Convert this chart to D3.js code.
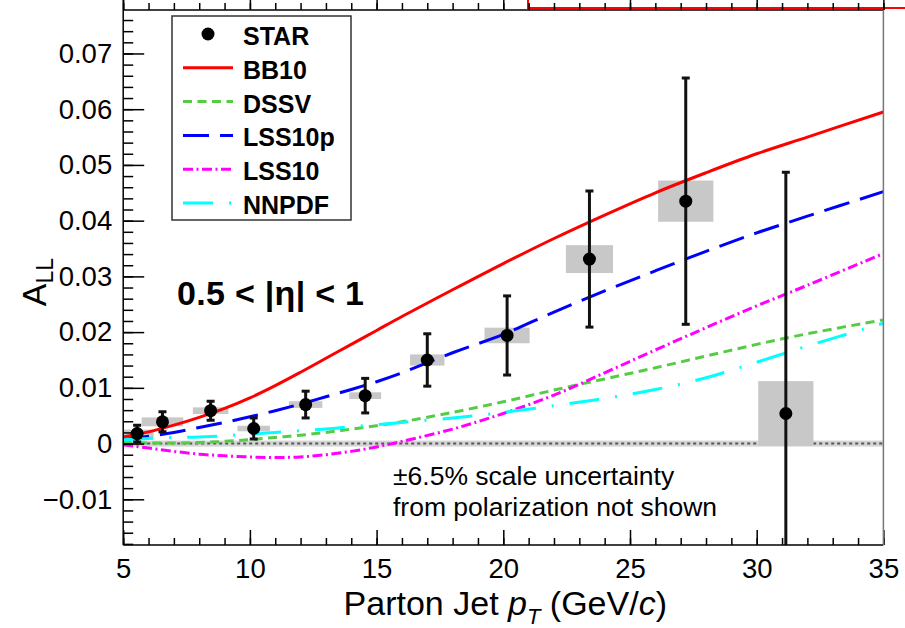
<!DOCTYPE html>
<html>
<head>
<meta charset="utf-8">
<script src="https://cdn.jsdelivr.net/npm/d3@7"></script>
<style>
body { margin: 0; background: #fff; }
svg { display: block; font-family: "Liberation Sans", Arial, Helvetica, sans-serif; }
</style>
</head>
<body>
<div class="Graph"></div>
<script>
// STAR data points
var ptJet   = [5.55, 6.55, 8.45, 10.15, 12.2, 14.55, 17.0, 20.15, 23.4, 27.2, 31.15];
var aLL     = [0.0018, 0.0039, 0.0059, 0.0027, 0.0070, 0.0086, 0.0150, 0.0194, 0.0331, 0.0435, 0.0054];
var statErr = [0.0015, 0.0018, 0.0017, 0.0019, 0.0024, 0.0031, 0.0047, 0.0071, 0.0122, 0.0221, 0.0433];
var systErr = [0.0007, 0.0008, 0.0006, 0.0005, 0.0006, 0.0006, 0.0010, 0.0014, 0.0025, 0.0037, 0.0058];
var systWid = [0.65, 0.82, 0.70, 0.64, 0.66, 0.63, 0.68, 0.89, 0.93, 1.09, 1.09];

// theory curves
var ptTheory = [5, 6, 7, 8, 9, 10, 11, 12, 13, 14, 15, 16, 18, 20, 22, 24, 26, 28, 30, 32, 35];
var bb10   = [0.0012, 0.0021, 0.0033, 0.0047, 0.0063, 0.0082, 0.0104, 0.0128, 0.0153, 0.0178, 0.0203, 0.0228, 0.0276, 0.0323, 0.0368, 0.0410, 0.0450, 0.0486, 0.0520, 0.0550, 0.0595];
var dssv   = [0.0002, 0.0001, 0.0001, 0.0002, 0.0004, 0.0007, 0.0011, 0.0015, 0.0020, 0.0026, 0.0032, 0.0039, 0.0056, 0.0075, 0.0096, 0.0116, 0.0136, 0.0157, 0.0178, 0.0197, 0.0222];
var lss10p = [0.0007, 0.0013, 0.0020, 0.0029, 0.0038, 0.0048, 0.0059, 0.0071, 0.0084, 0.0097, 0.0111, 0.0127, 0.0163, 0.0196, 0.0236, 0.0274, 0.0310, 0.0345, 0.0378, 0.0408, 0.0452];
var lss10  = [-0.0002, -0.0008, -0.0014, -0.0019, -0.0022, -0.0024, -0.0025, -0.0024, -0.0020, -0.0014, -0.0006, 0.0004, 0.0026, 0.0054, 0.0087, 0.0127, 0.0168, 0.0208, 0.0247, 0.0284, 0.0341];
var nnpdf  = [0.0007, 0.0009, 0.0011, 0.0012, 0.0014, 0.0017, 0.0020, 0.0023, 0.0026, 0.0030, 0.0034, 0.0038, 0.0046, 0.0056, 0.0068, 0.0081, 0.0097, 0.0118, 0.0146, 0.0175, 0.0216];

var xTicks = [5, 10, 15, 20, 25, 30, 35];
var yTicks = [-0.01, 0, 0.01, 0.02, 0.03, 0.04, 0.05, 0.06, 0.07];

var W = 905, H = 628;
var margin = {
        top: 10,
        right: 21.6,
        bottom: 83,
        left: 123.2
    },
    width = W - margin.left - margin.right,
    height = H - margin.top - margin.bottom;

var svg = d3.select(".Graph")
    .append("svg")
    .attr("width", W)
    .attr("height", H);

// piece of the panel above (cropped)
svg.append("path")
    .attr("d", "M528,0 V8 H905")
    .attr("fill", "none")
    .attr("stroke", "#ff0000")
    .attr("stroke-width", 2);

var g = svg.append("g")
    .attr("transform", "translate(" + margin.left + "," + margin.top + ")");

var x = d3.scaleLinear().domain([5, 35]).range([0, width]);
var y = d3.scaleLinear().domain([-0.0182, 0.0778]).range([height, 0]);

g.append("clipPath").attr("id", "frame")
    .append("rect").attr("width", width).attr("height", height);

var plot = g.append("g").attr("clip-path", "url(#frame)");

// zero line with grey band
plot.append("rect")
    .attr("x", 0).attr("width", width)
    .attr("y", y(0) - 3).attr("height", 6)
    .attr("fill", "#d4d4d4");
plot.append("line")
    .attr("x1", 0).attr("x2", width)
    .attr("y1", y(0)).attr("y2", y(0))
    .attr("stroke", "#555")
    .attr("stroke-width", 2)
    .attr("stroke-dasharray", "3,3");

// systematic boxes
plot.selectAll(".syst")
    .data(ptJet)
    .enter()
    .append("rect")
    .attr("class", "syst")
    .attr("x", (d, i) => x(d - systWid[i]))
    .attr("width", (d, i) => x(d + systWid[i]) - x(d - systWid[i]))
    .attr("y", (d, i) => y(aLL[i] + systErr[i]))
    .attr("height", (d, i) => y(aLL[i] - systErr[i]) - y(aLL[i] + systErr[i]))
    .attr("fill", "#c8c8c8");

// theory curves
var curves = [
    {name: "BB10", vals: bb10, color: "#ff0000", dash: null},
    {name: "DSSV", vals: dssv, color: "#55cc44", dash: "9,5.5"},
    {name: "LSS10p", vals: lss10p, color: "#0000ff", dash: "26,11"},
    {name: "LSS10", vals: lss10, color: "#ff00ff", dash: "10,3.5,2,3.5"},
    {name: "NNPDF", vals: nnpdf, color: "#00ffff", dash: "30,16,2,16"}
];

var line = d3.line()
    .x((d, i) => x(ptTheory[i]))
    .y(d => y(d))
    .curve(d3.curveCatmullRom);

curves.forEach(c => {
    plot.append("path")
        .attr("d", line(c.vals))
        .attr("fill", "none")
        .attr("stroke", c.color)
        .attr("stroke-width", 3)
        .attr("stroke-dasharray", c.dash);
});

// stat error bars
var bars = plot.selectAll(".err")
    .data(ptJet)
    .enter()
    .append("g")
    .attr("class", "err")
    .attr("stroke", "#111")
    .attr("stroke-width", 3);
bars.append("line")
    .attr("x1", d => x(d)).attr("x2", d => x(d))
    .attr("y1", (d, i) => y(aLL[i] + statErr[i]))
    .attr("y2", (d, i) => y(aLL[i] - statErr[i]));
bars.append("line")
    .attr("x1", d => x(d) - 4).attr("x2", d => x(d) + 4)
    .attr("y1", (d, i) => y(aLL[i] + statErr[i]))
    .attr("y2", (d, i) => y(aLL[i] + statErr[i]));
bars.append("line")
    .attr("x1", d => x(d) - 4).attr("x2", d => x(d) + 4)
    .attr("y1", (d, i) => y(aLL[i] - statErr[i]))
    .attr("y2", (d, i) => y(aLL[i] - statErr[i]));

plot.selectAll(".point")
    .data(ptJet)
    .enter()
    .append("circle")
    .attr("class", "point")
    .attr("cx", d => x(d))
    .attr("cy", (d, i) => y(aLL[i]))
    .attr("r", 6.5)
    .attr("fill", "#000");

// axes
var minorX = d3.range(5, 36, 1);
var minorY = d3.range(-18, 78, 2).map(v => v / 1000);

g.append("g")
    .attr("transform", "translate(0," + height + ")")
    .call(d3.axisBottom(x).tickValues(minorX).tickSize(-7).tickFormat(""));
g.append("g")
    .attr("class", "xaxis")
    .attr("transform", "translate(0," + height + ")")
    .call(d3.axisBottom(x).tickValues(xTicks).tickSize(-15).tickPadding(13).tickFormat(d3.format("d")));

g.append("g")
    .call(d3.axisTop(x).tickValues(minorX).tickSize(7).tickFormat(""));
g.append("g")
    .call(d3.axisTop(x).tickValues(xTicks).tickSize(12).tickFormat(""));

g.append("g")
    .call(d3.axisLeft(y).tickValues(minorY).tickSize(-10).tickFormat(""));
g.append("g")
    .attr("class", "yaxis")
    .call(d3.axisLeft(y).tickValues(yTicks).tickSize(-21).tickPadding(11)
        .tickFormat(d => d === 0 ? "0" : d3.format(".2f")(d)));

g.selectAll(".domain").remove();
g.selectAll(".tick line").attr("stroke", "#000").attr("stroke-width", 1.5);
g.selectAll(".xaxis text, .yaxis text")
    .attr("fill", "#000")
    .style("font-size", "27.5px")
    .style("font-family", "'Liberation Sans', Arial, sans-serif");

// frame
g.append("line").attr("x1", 0).attr("x2", 0).attr("y1", -10).attr("y2", height)
    .attr("stroke", "#000").attr("stroke-width", 1.5);
g.append("line").attr("x1", 0).attr("x2", width).attr("y1", height).attr("y2", height)
    .attr("stroke", "#000").attr("stroke-width", 1.5);
g.append("line").attr("x1", 0).attr("x2", width).attr("y1", 0).attr("y2", 0)
    .attr("stroke", "#000").attr("stroke-width", 1.5);
g.append("line").attr("x1", width).attr("x2", width).attr("y1", 0).attr("y2", height)
    .attr("stroke", "#777").attr("stroke-width", 1.5);

// axis titles
var xt = svg.append("text")
    .attr("x", margin.left + width / 2 + 2)
    .attr("y", 615)
    .attr("text-anchor", "middle")
    .style("font-size", "34px");
xt.append("tspan").text("Parton Jet ");
xt.append("tspan").attr("font-style", "italic").text("p");
xt.append("tspan").attr("font-style", "italic").attr("dy", 9).style("font-size", "22px").text("T");
xt.append("tspan").attr("dy", -9).text(" (GeV/");
xt.append("tspan").attr("font-style", "italic").text("c");
xt.append("tspan").text(")");

var yt = svg.append("text")
    .attr("transform", "translate(46,282) rotate(-90)")
    .attr("text-anchor", "middle")
    .style("font-size", "34px");
yt.append("tspan").text("A");
yt.append("tspan").attr("dy", 7).style("font-size", "23px").text("LL");

// annotations
svg.append("text")
    .attr("x", 177).attr("y", 305)
    .attr("textLength", 187)
    .style("font-size", "34px")
    .style("font-weight", "bold")
    .text("0.5 < |\u03b7| < 1");

svg.append("text")
    .attr("x", 393).attr("y", 485)
    .style("font-size", "26.5px")
    .text("\u00b16.5% scale uncertainty");
svg.append("text")
    .attr("x", 393).attr("y", 516)
    .style("font-size", "26.5px")
    .text("from polarization not shown");

// legend
var legend = svg.append("g");
legend.append("rect")
    .attr("x", 172).attr("y", 16)
    .attr("width", 179).attr("height", 204)
    .attr("fill", "#fff")
    .attr("stroke", "#333")
    .attr("stroke-width", 1.5);

var legNames = ["STAR"].concat(curves.map(c => c.name));
legNames.forEach((n, i) => {
    var by = 45 + i * 33.8;
    if (i === 0) {
        legend.append("circle").attr("cx", 208).attr("cy", by - 11).attr("r", 6.5).attr("fill", "#000");
    } else {
        var c = curves[i - 1];
        legend.append("line")
            .attr("x1", 183).attr("x2", 233)
            .attr("y1", by - 11).attr("y2", by - 11)
            .attr("stroke", c.color)
            .attr("stroke-width", 3)
            .attr("stroke-dasharray", c.dash);
    }
    legend.append("text")
        .attr("x", 243).attr("y", by)
        .style("font-size", "25px")
        .style("font-weight", "bold")
        .text(n);
});
</script>
</body>
</html>
